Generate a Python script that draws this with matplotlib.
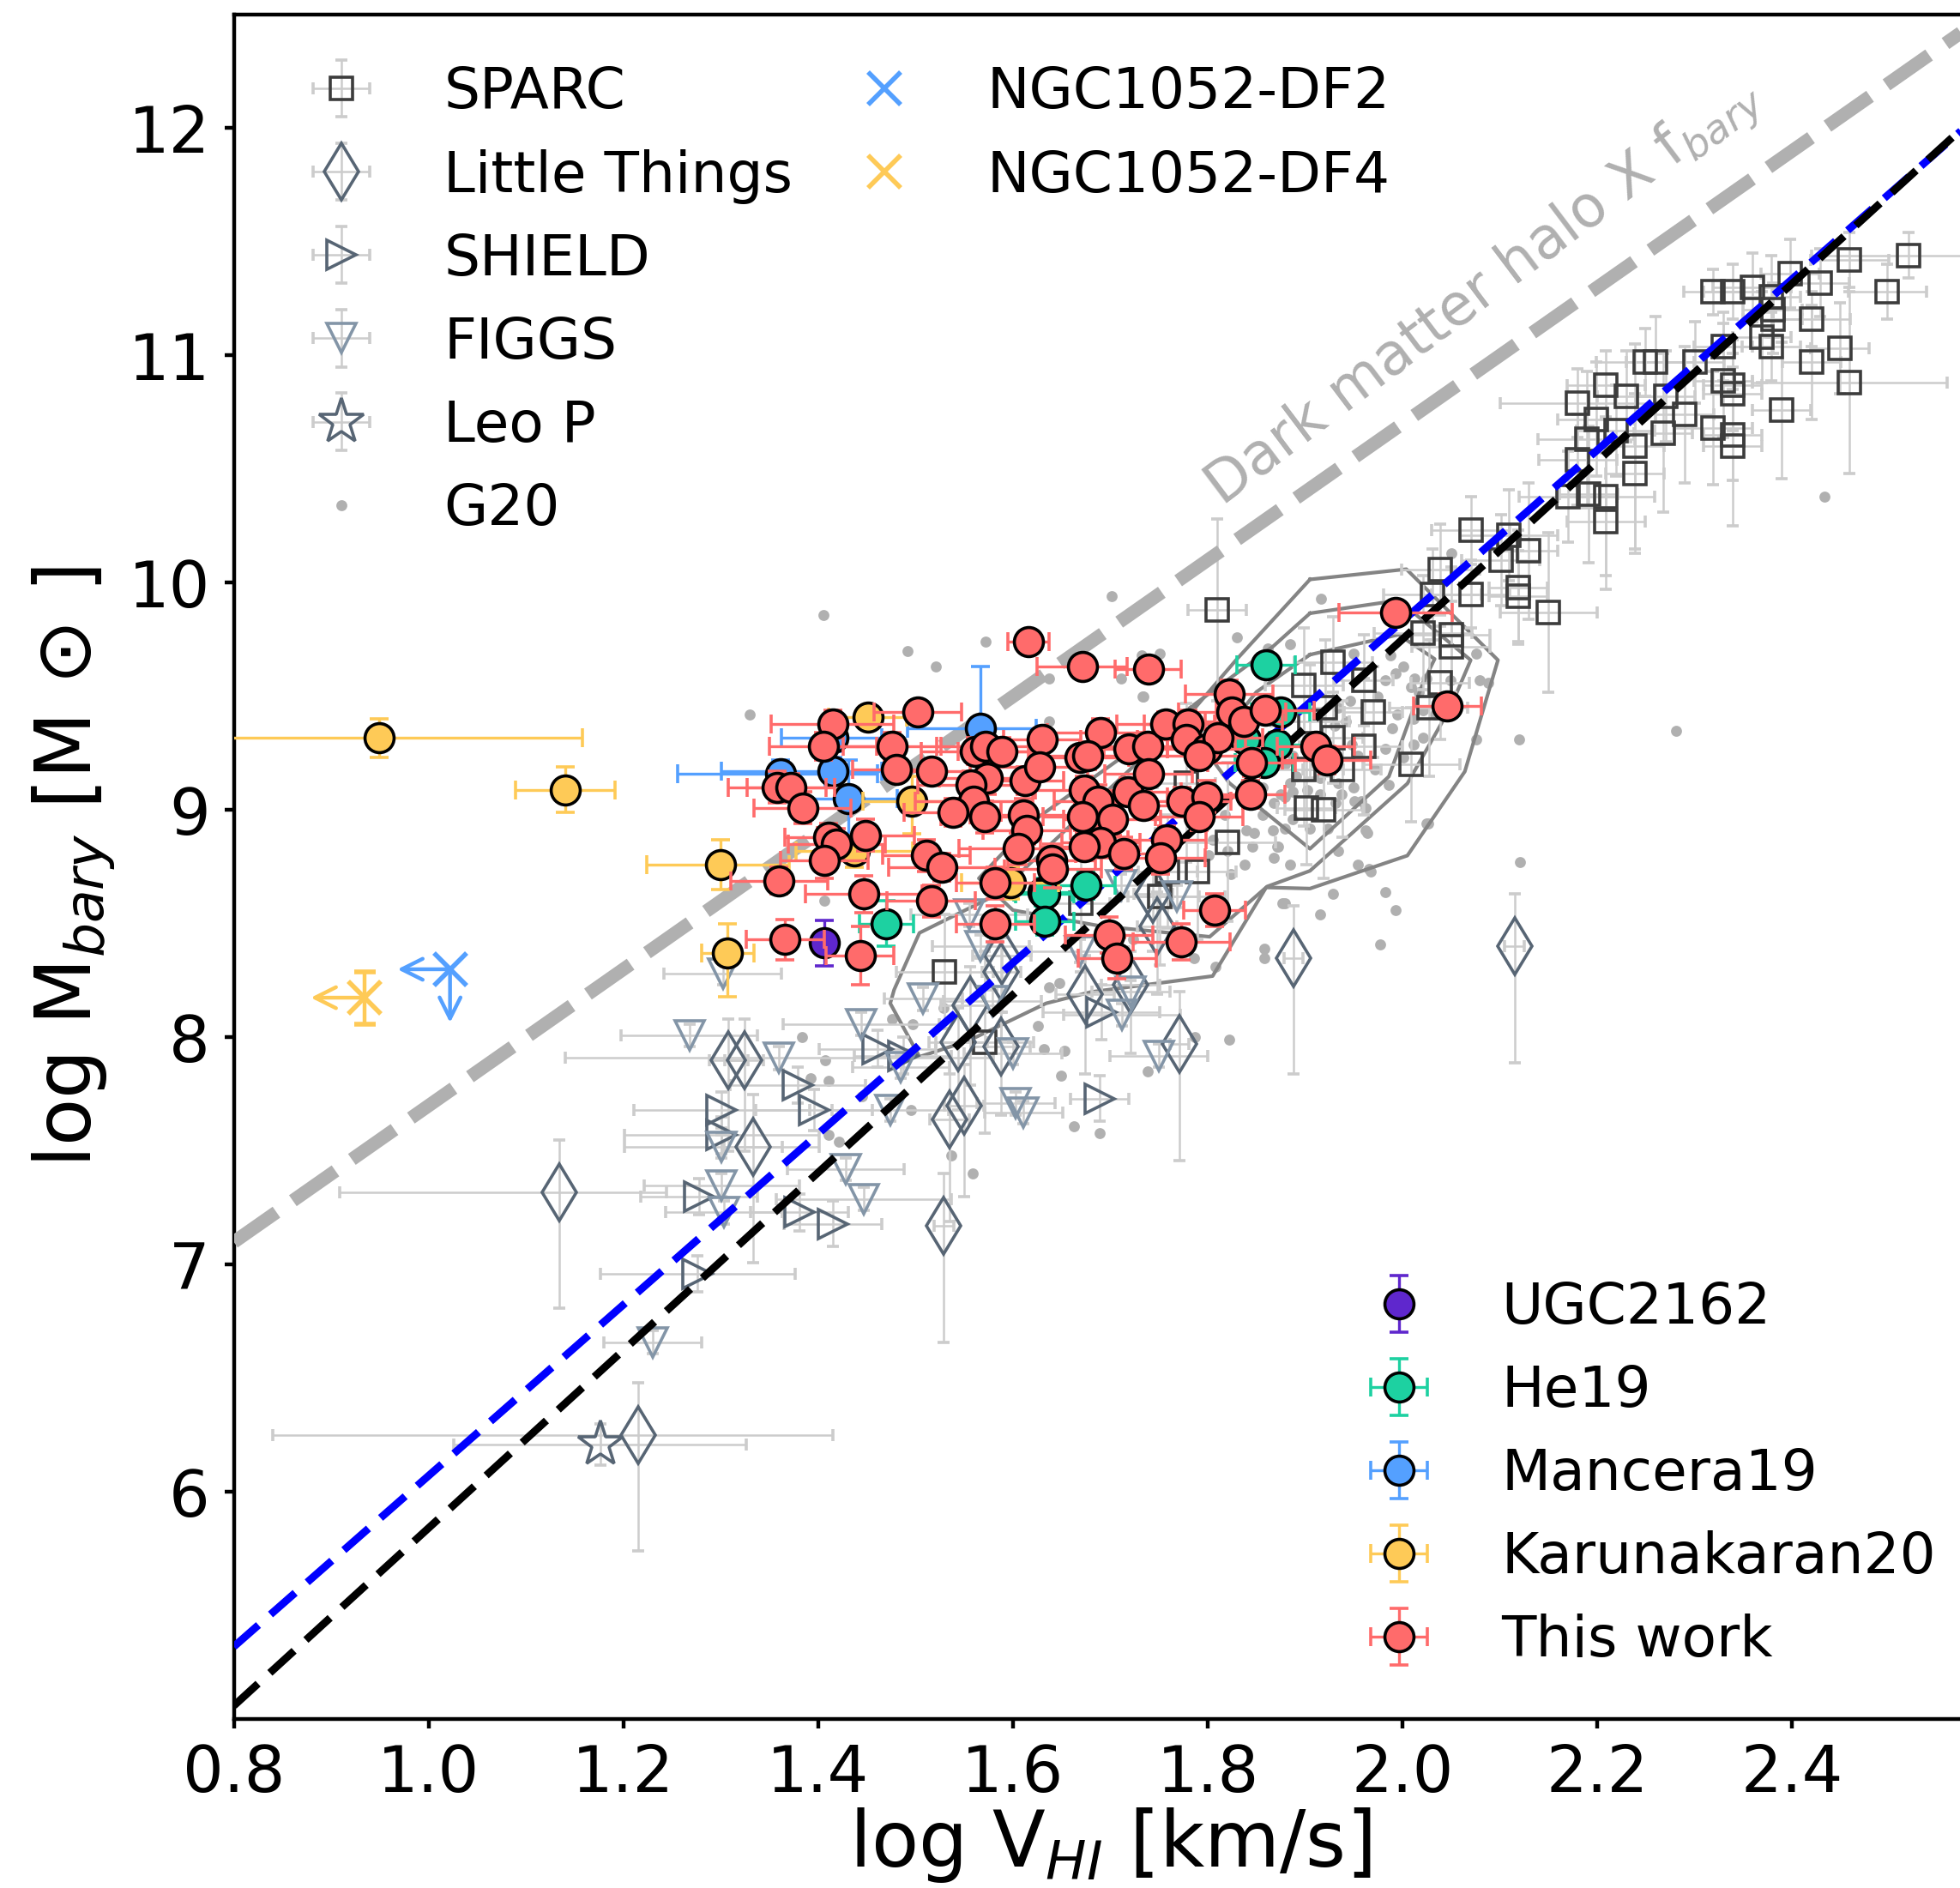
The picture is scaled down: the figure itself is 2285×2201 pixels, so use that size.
import matplotlib
matplotlib.use("Agg")
import matplotlib.pyplot as plt
from matplotlib.lines import Line2D
import numpy as np

plt.rcParams["font.family"] = ["DejaVu Sans"]
plt.rcParams["mathtext.fontset"] = "dejavusans"

# ---------------- comparison samples ----------------
sparc_logv = [2.520, 2.459, 2.429, 2.498, 2.398, 2.319, 2.339, 2.359, 2.379, 2.380,
              2.380, 2.369, 2.379, 2.420, 2.449, 2.420, 2.459, 2.389, 2.329, 2.300,
              2.260, 2.249, 2.329, 2.339, 2.339, 2.290, 2.270, 2.268, 2.319, 2.339,
              2.339, 2.209, 2.230, 2.180, 2.199, 2.189, 2.219, 2.239, 2.180, 2.239,
              2.191, 2.170, 2.209, 2.209, 2.070, 2.109, 2.129, 2.101, 2.119, 2.119,
              2.070, 2.150, 2.039, 2.031, 2.021, 2.050, 2.050, 2.039, 2.027, 2.009,
              1.810, 1.929, 1.899, 1.960, 1.921, 1.970, 1.905, 1.929, 1.960, 1.899,
              1.938, 1.901, 1.919, 1.820, 1.789, 1.759, 1.751, 1.778, 1.530, 1.670,
              1.571]
sparc_logm = [11.44, 11.42, 11.32, 11.28, 11.36, 11.28, 11.28, 11.30, 11.26, 11.20,
              11.16, 11.08, 11.04, 11.16, 11.03, 10.97, 10.88, 10.76, 11.04, 10.97,
              10.97, 10.97, 10.89, 10.87, 10.83, 10.74, 10.82, 10.66, 10.68, 10.65,
              10.60, 10.87, 10.82, 10.79, 10.72, 10.63, 10.67, 10.60, 10.54, 10.48,
              10.39, 10.38, 10.38, 10.27, 10.23, 10.21, 10.14, 10.10, 9.98, 9.94,
              9.95, 9.87, 10.06, 9.95, 9.78, 9.77, 9.72, 9.56, 9.45, 9.20,
              9.88, 9.65, 9.55, 9.57, 9.45, 9.43, 9.39, 9.32, 9.28, 9.18,
              9.18, 9.01, 9.00, 8.86, 8.73, 8.73, 8.62, 9.12, 8.29, 8.59,
              7.98]
sparc_xerr = [0.10, 0.04, 0.03, 0.04, 0.03, 0.03, 0.03, 0.04, 0.03, 0.03,
              0.03, 0.03, 0.03, 0.04, 0.03, 0.03, 0.10, 0.03, 0.03, 0.03,
              0.03, 0.05, 0.03, 0.03, 0.03, 0.03, 0.03, 0.03, 0.04, 0.03,
              0.03, 0.04, 0.03, 0.08, 0.04, 0.05, 0.04, 0.03, 0.04, 0.03,
              0.03, 0.05, 0.05, 0.04, 0.04, 0.05, 0.03, 0.04, 0.03, 0.03,
              0.04, 0.05, 0.04, 0.05, 0.05, 0.04, 0.04, 0.03, 0.04, 0.05,
              0.03, 0.04, 0.04, 0.03, 0.04, 0.03, 0.04, 0.03, 0.04, 0.04,
              0.04, 0.03, 0.04, 0.05, 0.04, 0.03, 0.04, 0.03, 0.05, 0.03,
              0.05]
sparc_yerr = [0.10, 0.12, 0.15, 0.12, 0.15, 0.10, 0.12, 0.15, 0.18, 0.12,
              0.15, 0.20, 0.15, 0.12, 0.20, 0.25, 0.40, 0.30, 0.15, 0.18,
              0.20, 0.15, 0.25, 0.20, 0.18, 0.30, 0.20, 0.35, 0.25, 0.20,
              0.35, 0.15, 0.20, 0.15, 0.25, 0.30, 0.20, 0.45, 0.20, 0.35,
              0.30, 0.20, 0.35, 0.30, 0.15, 0.20, 0.30, 0.20, 0.25, 0.20,
              0.15, 0.35, 0.20, 0.20, 0.25, 0.30, 0.20, 0.25, 0.30, 0.25,
              0.40, 0.20, 0.25, 0.20, 0.30, 0.20, 0.25, 0.20, 0.30, 0.25,
              0.30, 0.25, 0.30, 0.35, 0.30, 0.25, 0.30, 0.35, 0.25, 0.30,
              0.40]

lt_logv = [2.115, 1.888, 1.771, 1.529, 1.134, 1.215, 1.308, 1.324, 1.333, 1.535,
           1.550, 1.588, 1.674, 1.721, 1.544, 1.588, 1.556, 1.744, 1.748, 1.589]
lt_logm = [8.40, 8.35, 7.97, 7.17, 7.32, 6.25, 7.90, 7.90, 7.52, 7.64,
           7.70, 7.96, 8.19, 8.23, 7.98, 8.29, 8.14, 8.63, 8.49, 8.36]
lt_xerr_lo = [0.01, 0.01, 0.01, 0.01, 0.225, 0.375, 0.02, 0.02, 0.03, 0.02,
              0.02, 0.03, 0.03, 0.03, 0.03, 0.02, 0.03, 0.02, 0.02, 0.03]
lt_xerr_hi = [0.01, 0.01, 0.01, 0.01, 0.11, 0.20, 0.02, 0.02, 0.03, 0.02,
              0.02, 0.03, 0.03, 0.03, 0.03, 0.02, 0.03, 0.02, 0.02, 0.03]
lt_yerr_lo = [0.51, 0.51, 0.51, 0.51, 0.51, 0.51, 0.40, 0.40, 0.51, 0.45,
              0.40, 0.30, 0.35, 0.30, 0.30, 0.30, 0.35, 0.25, 0.30, 0.25]
lt_yerr_hi = [0.23, 0.23, 0.23, 0.23, 0.23, 0.23, 0.18, 0.18, 0.23, 0.20,
              0.18, 0.15, 0.17, 0.15, 0.15, 0.15, 0.17, 0.13, 0.15, 0.13]

shield_logv = [1.689, 1.691, 1.461, 1.487, 1.379, 1.396, 1.301, 1.301, 1.278, 1.381, 1.415, 1.276]
shield_logm = [7.73, 8.11, 7.95, 7.92, 7.79, 7.68, 7.68, 7.57, 7.30, 7.23, 7.18, 6.96]
shield_xerr = [0.03, 0.06, 0.06, 0.05, 0.07, 0.06, 0.09, 0.10, 0.06, 0.05, 0.05, 0.10]
shield_yerr = [0.10, 0.12, 0.08, 0.08, 0.08, 0.09, 0.08, 0.08, 0.08, 0.08, 0.10, 0.08]

figgs_logv = [1.268, 1.360, 1.444, 1.508, 1.485, 1.474, 1.301, 1.303, 1.301, 1.428,
              1.447, 1.603, 1.611, 1.750, 1.712, 1.600, 1.721, 1.230, 1.579, 1.302,
              1.555, 1.567, 1.669, 1.768, 1.711]
figgs_logm = [8.01, 7.91, 8.06, 8.17, 7.87, 7.68, 7.35, 7.23, 7.52, 7.42,
              7.29, 7.71, 7.67, 7.92, 8.10, 7.93, 8.20, 6.66, 8.16, 8.28,
              8.54, 8.40, 8.38, 8.62, 8.67]
figgs_xerr = [0.07, 0.22, 0.08, 0.04, 0.05, 0.06, 0.08, 0.06, 0.10, 0.06,
              0.09, 0.04, 0.04, 0.05, 0.06, 0.05, 0.04, 0.05, 0.05, 0.06,
              0.06, 0.05, 0.05, 0.05, 0.04]
figgs_yerr = [0.05, 0.05, 0.05, 0.05, 0.05, 0.05, 0.05, 0.05, 0.05, 0.05,
              0.05, 0.05, 0.05, 0.05, 0.05, 0.05, 0.05, 0.05, 0.05, 0.05,
              0.05, 0.05, 0.05, 0.05, 0.05]

leop_logv = [1.176]
leop_logm = [6.21]
leop_xerr = [0.15]
leop_yerr = [0.09]

g20_logv = [1.405, 1.330, 2.121, 2.281, 2.433, 2.120, 2.050, 1.916, 1.830, 1.885,
            1.862, 2.076, 2.088, 2.079, 2.076, 2.025, 1.982, 1.929, 1.993, 1.915,
            1.977, 1.858, 1.858, 1.808, 1.877, 1.966, 1.824, 1.838, 1.868, 1.885,
            1.848, 1.872, 1.879, 1.820, 1.950, 1.988, 2.001, 1.993, 1.982, 1.974,
            1.995, 1.989, 2.021, 2.011, 2.017, 2.009, 2.025, 1.946, 1.934, 1.930,
            1.942, 1.948, 1.954, 1.934, 1.911, 1.887, 1.879, 1.891, 1.915, 1.934,
            1.950, 1.887, 1.879, 1.915, 1.931, 1.887, 1.868, 1.856, 1.840, 1.905,
            1.923, 1.962, 1.856, 1.838, 1.818, 1.805, 1.801, 1.846, 1.954, 1.934,
            1.962, 1.986, 1.972, 1.982, 2.001, 2.011, 2.033, 2.021, 2.049, 1.701,
            1.492, 1.572, 1.521, 1.637, 1.732, 1.751, 1.734, 1.637, 1.875, 2.012,
            1.637, 1.648, 1.626, 1.822, 1.787, 1.738, 1.649, 1.663, 1.689, 1.559,
            1.537, 1.632, 1.653, 1.723, 1.786, 1.879, 1.383, 1.392, 1.411, 1.407,
            1.445, 1.411, 1.421, 1.495, 1.476, 1.497, 1.529, 1.406, 1.711, 1.733,
            1.902, 1.958, 1.867, 1.871, 1.967, 2.026, 1.951, 1.937, 1.964, 1.885]
g20_logm = [9.86, 9.42, 8.77, 9.35, 10.38, 9.31, 10.13, 9.93, 9.76, 9.73,
            9.71, 9.69, 9.56, 9.57, 9.31, 8.94, 8.64, 8.63, 8.56, 8.54,
            8.41, 8.39, 8.35, 8.31, 8.59, 8.74, 8.72, 8.76, 8.79, 8.76,
            8.90, 8.84, 8.92, 8.82, 9.69, 9.68, 9.63, 9.60, 9.57, 9.50,
            9.42, 9.36, 9.32, 9.40, 9.52, 9.54, 9.58, 9.48, 9.45, 9.37,
            9.39, 9.29, 9.24, 9.23, 9.20, 9.24, 9.20, 9.15, 9.14, 9.12,
            9.10, 9.08, 9.06, 9.07, 9.03, 8.96, 9.03, 8.98, 8.91, 8.92,
            8.92, 8.91, 9.10, 9.06, 8.98, 8.87, 8.80, 8.84, 8.76, 8.82,
            9.01, 9.11, 9.18, 9.27, 9.23, 9.29, 9.42, 9.44, 9.57, 9.94,
            9.70, 9.74, 9.63, 9.58, 9.68, 9.69, 9.50, 9.39, 9.07, 9.58,
            8.22, 8.24, 8.05, 7.99, 8.00, 7.85, 7.83, 7.61, 7.58, 7.40,
            7.48, 7.95, 7.94, 8.43, 8.35, 8.59, 8.00, 7.82, 7.81, 7.90,
            7.74, 7.57, 7.54, 7.68, 8.08, 8.06, 8.13, 8.60, 9.58, 9.50,
            9.09, 9.04, 8.91, 8.84, 8.73, 8.94, 9.04, 9.07, 8.90, 9.12]

# G20 density contours (outer, middle, inner levels)
contour_outer_v = [1.905, 2.004, 2.098, 2.064, 2.005, 1.905, 1.860, 1.805, 1.680, 1.634,
                   1.554, 1.504, 1.474, 1.478, 1.504, 1.584, 1.785, 1.829, 1.905]
contour_outer_m = [10.015, 10.06, 9.66, 9.17, 8.80, 8.655, 8.66, 8.27, 8.20, 8.15,
                   7.985, 7.915, 8.15, 8.21, 8.46, 8.63, 9.44, 9.66, 10.015]
contour_middle_v = [1.905, 1.996, 2.070, 2.049, 2.005, 1.905, 1.861, 1.802, 1.690, 1.600,
                    1.565, 1.620, 1.750, 1.867, 1.905]
contour_middle_m = [9.866, 9.923, 9.66, 9.45, 9.117, 8.733, 8.664, 8.443, 8.49, 8.56,
                    8.70, 8.95, 9.35, 9.72, 9.866]
contour_inner_v = [1.905, 1.996, 2.033, 2.021, 1.986, 1.905, 1.822, 1.800, 1.850, 1.905]
contour_inner_m = [9.684, 9.772, 9.665, 9.56, 9.148, 8.83, 9.12, 9.25, 9.52, 9.684]

# ---------------- ultra-diffuse samples ----------------
ugc_logv = [1.406]
ugc_logm = [8.415]
ugc_yerr = [0.10]

he19_logv = [1.860, 1.875, 1.839, 1.871, 1.858, 1.675, 1.631, 1.633, 1.633, 1.470]
he19_logm = [9.64, 9.43, 9.31, 9.29, 9.21, 8.67, 8.64, 8.63, 8.51, 8.50]
he19_xerr = [0.03, 0.03, 0.03, 0.03, 0.03, 0.03, 0.03, 0.03, 0.03, 0.028]
he19_yerr = [0.05, 0.05, 0.05, 0.05, 0.05, 0.06, 0.06, 0.06, 0.06, 0.10]

man19_logv = [1.567, 1.361, 1.415, 1.415, 1.431]
man19_logm = [9.36, 9.16, 9.17, 9.32, 9.05]
man19_xerr_lo = [0.075, 0.105, 0.114, 0.053, 0.05]
man19_xerr_hi = [0.057, 0.100, 0.050, 0.050, 0.05]
man19_yerr = [0.27, 0.06, 0.06, 0.06, 0.17]

kar20_logv = [0.949, 1.140, 1.300, 1.307, 1.451, 1.496, 1.437, 1.597]
kar20_logm = [9.32, 9.09, 8.76, 8.37, 9.41, 9.04, 8.82, 8.68]
kar20_xerr_lo = [0.25, 0.051, 0.076, 0.027, 0.04, 0.05, 0.06, 0.05]
kar20_xerr_hi = [0.209, 0.051, 0.070, 0.027, 0.04, 0.05, 0.06, 0.05]
kar20_yerr_lo = [0.09, 0.10, 0.11, 0.19, 0.05, 0.145, 0.07, 0.07]
kar20_yerr_hi = [0.08, 0.10, 0.11, 0.13, 0.05, 0.107, 0.07, 0.07]

tw_logv = [1.616, 1.671, 1.739, 1.993, 2.046, 1.502, 1.476, 1.480, 1.516, 1.561,
           1.572, 1.589, 1.630, 1.690, 1.669, 1.677, 1.719, 1.738, 1.757, 1.780,
           1.778, 1.799, 1.811, 1.791, 1.822, 1.825, 1.837, 1.859, 1.845, 1.911,
           1.922, 1.574, 1.557, 1.560, 1.538, 1.571, 1.612, 1.627, 1.611, 1.614,
           1.605, 1.673, 1.687, 1.671, 1.702, 1.718, 1.739, 1.734, 1.690, 1.673,
           1.714, 1.758, 1.752, 1.774, 1.799, 1.791, 1.844, 1.449, 1.511, 1.527,
           1.640, 1.641, 1.582, 1.447, 1.516, 1.582, 1.443, 1.807, 1.699, 1.707,
           1.773, 1.415, 1.405, 1.358, 1.372, 1.384, 1.411, 1.419, 1.406, 1.360,
           1.366]
tw_logm = [9.74, 9.63, 9.62, 9.87, 9.46, 9.43, 9.28, 9.18, 9.17, 9.26,
           9.28, 9.26, 9.31, 9.34, 9.23, 9.24, 9.27, 9.28, 9.38, 9.38,
           9.31, 9.27, 9.32, 9.24, 9.51, 9.43, 9.39, 9.44, 9.21, 9.28,
           9.22, 9.14, 9.11, 9.04, 8.99, 8.97, 9.13, 9.19, 8.98, 8.91,
           8.83, 9.09, 9.04, 8.97, 8.96, 9.08, 9.16, 9.02, 8.86, 8.84,
           8.81, 8.87, 8.79, 9.04, 9.06, 8.97, 9.07, 8.89, 8.80, 8.75,
           8.78, 8.74, 8.68, 8.63, 8.60, 8.50, 8.36, 8.56, 8.45, 8.35,
           8.42, 9.38, 9.28, 9.10, 9.10, 9.01, 8.88, 8.85, 8.78, 8.69,
           8.43]
tw_xerr = [0.021, 0.046, 0.034, 0.058, 0.035, 0.045, 0.050, 0.045, 0.040, 0.055,
           0.050, 0.045, 0.040, 0.055, 0.050, 0.045, 0.040, 0.045, 0.050, 0.045,
           0.050, 0.040, 0.045, 0.050, 0.045, 0.055, 0.040, 0.050, 0.045, 0.040,
           0.045, 0.050, 0.055, 0.060, 0.050, 0.045, 0.040, 0.050, 0.055, 0.045,
           0.060, 0.050, 0.045, 0.040, 0.050, 0.055, 0.045, 0.050, 0.040, 0.045,
           0.050, 0.040, 0.045, 0.050, 0.040, 0.045, 0.035, 0.050, 0.045, 0.055,
           0.045, 0.050, 0.040, 0.060, 0.045, 0.040, 0.035, 0.032, 0.045, 0.040,
           0.050, 0.063, 0.055, 0.050, 0.045, 0.050, 0.045, 0.050, 0.045, 0.050,
           0.040]
tw_yerr = [0.03, 0.04, 0.04, 0.04, 0.05, 0.05, 0.06, 0.05, 0.05, 0.06,
           0.05, 0.06, 0.05, 0.06, 0.05, 0.06, 0.05, 0.06, 0.05, 0.06,
           0.05, 0.06, 0.05, 0.06, 0.06, 0.05, 0.06, 0.05, 0.06, 0.05,
           0.06, 0.07, 0.06, 0.07, 0.06, 0.07, 0.06, 0.06, 0.07, 0.06,
           0.07, 0.06, 0.07, 0.06, 0.07, 0.06, 0.05, 0.06, 0.07, 0.06,
           0.07, 0.06, 0.07, 0.06, 0.07, 0.06, 0.06, 0.07, 0.07, 0.06,
           0.07, 0.08, 0.07, 0.08, 0.07, 0.08, 0.13, 0.07, 0.08, 0.09,
           0.08, 0.06, 0.06, 0.07, 0.06, 0.07, 0.06, 0.07, 0.08, 0.06,
           0.09]

# NGC1052 galaxies: upper limits
df2_logv, df2_logm = 1.022, 8.30
df2_dv, df2_dm = 0.054, 0.235
df4_logv, df4_logm = 0.934, 8.175
df4_dv, df4_merr = 0.055, 0.115

# scaling relations: log M = slope * log V + zero point
halo_slope, halo_zero = 3.0, 4.70
btfr_slope, btfr_zero = 3.91, 1.932
btfr2_slope, btfr2_zero = 3.76, 2.312

# ---------------- styling ----------------
C_RED, C_GREEN, C_BLUE = "#ff6b6b", "#1dd1a1", "#54a0ff"
C_ORANGE, C_PURPLE = "#feca57", "#5f27cd"
C_ERR = "#cccccc"
C_SLATE, C_SLATE_L = "#576574", "#8395a7"

fig = plt.figure(figsize=(11.425, 11.005), dpi=200)
ax = fig.add_axes([0.1193, 0.0893, 0.8944, 0.9030])
ax.set_xlim(0.8, 2.6)
ax.set_ylim(5.0, 12.5)

# G20 points and their density contours
ax.plot(g20_logv, g20_logm, "o", ms=3.6, color="#b0b0b0", ls="none", zorder=1)
g20_h = Line2D([], [], marker="o", ms=3.6, color="#b0b0b0", ls="none")
for cv, cm in [(contour_outer_v, contour_outer_m),
               (contour_middle_v, contour_middle_m),
               (contour_inner_v, contour_inner_m)]:
    ax.plot(cv, cm, color="#848484", lw=1.5, zorder=2)

gray_kw = dict(ls="none", mfc="none", ecolor=C_ERR, elinewidth=0.9,
               capsize=2.6, capthick=0.9, zorder=3)
sparc_h = ax.errorbar(sparc_logv, sparc_logm, xerr=sparc_xerr, yerr=sparc_yerr,
                      marker="s", ms=9.5, mec="#3c3c3c", mew=1.3, **gray_kw)
lt_h = ax.errorbar(lt_logv, lt_logm, xerr=[lt_xerr_lo, lt_xerr_hi],
                   yerr=[lt_yerr_lo, lt_yerr_hi],
                   marker="d", ms=17, mec=C_SLATE, mew=1.3, **gray_kw)
shield_h = ax.errorbar(shield_logv, shield_logm, xerr=shield_xerr, yerr=shield_yerr,
                       marker=">", ms=12.5, mec=C_SLATE, mew=1.3, **gray_kw)
figgs_h = ax.errorbar(figgs_logv, figgs_logm, xerr=figgs_xerr, yerr=figgs_yerr,
                      marker="v", ms=12.5, mec=C_SLATE_L, mew=1.3, **gray_kw)
leop_h = ax.errorbar(leop_logv, leop_logm, xerr=leop_xerr, yerr=leop_yerr,
                     marker="*", ms=20, mec=C_SLATE, mew=1.3, **gray_kw)

# scaling relations
vgrid = np.array([0.8, 2.6])
ax.plot(vgrid, halo_slope * vgrid + halo_zero, color="#b0b0b0", lw=5.6,
        dashes=(3.9, 1.5), zorder=4)
ax.plot(vgrid, btfr2_slope * vgrid + btfr2_zero, color="blue", lw=3.2,
        dashes=(4.3, 2.1), zorder=4)
ax.plot(vgrid, btfr_slope * vgrid + btfr_zero, color="black", lw=3.2,
        dashes=(4.3, 2.1), zorder=4)
ax.text(1.815, 10.33, "Dark matter halo X f$_{bary}$", rotation=37,
        rotation_mode="anchor", ha="left", va="baseline", color="#b0b0b0",
        fontsize=24, zorder=4)

# UDG samples
col_kw = dict(ls="none", marker="o", ms=12.2, mec="black", mew=1.3,
              elinewidth=1.2, capsize=4.0, capthick=1.2)
ugc_h = ax.errorbar(ugc_logv, ugc_logm, yerr=ugc_yerr, mfc=C_PURPLE,
                    ecolor=C_PURPLE, zorder=5, **col_kw)
he19_h = ax.errorbar(he19_logv, he19_logm, xerr=he19_xerr, yerr=he19_yerr,
                     mfc=C_GREEN, ecolor=C_GREEN, zorder=6, **col_kw)
man19_h = ax.errorbar(man19_logv, man19_logm, xerr=[man19_xerr_lo, man19_xerr_hi],
                      yerr=man19_yerr, mfc=C_BLUE, ecolor=C_BLUE, zorder=7, **col_kw)
kar20_h = ax.errorbar(kar20_logv, kar20_logm, xerr=[kar20_xerr_lo, kar20_xerr_hi],
                      yerr=[kar20_yerr_lo, kar20_yerr_hi], mfc=C_ORANGE,
                      ecolor=C_ORANGE, zorder=8, **col_kw)
tw_h = ax.errorbar(tw_logv, tw_logm, xerr=tw_xerr, yerr=tw_yerr, mfc=C_RED,
                   ecolor=C_RED, zorder=9, **col_kw)

# NGC1052-DF2 / DF4 with limit arrows
arrow_kw = dict(arrowstyle="->", lw=1.6, mutation_scale=22, shrinkA=0, shrinkB=0)
ax.plot([df2_logv], [df2_logm], "x", ms=14, mew=2.0, color=C_BLUE, zorder=6)
ax.annotate("", xy=(df2_logv - df2_dv, df2_logm), xytext=(df2_logv, df2_logm),
            arrowprops=dict(color=C_BLUE, **arrow_kw), zorder=6)
ax.annotate("", xy=(df2_logv, df2_logm - df2_dm), xytext=(df2_logv, df2_logm),
            arrowprops=dict(color=C_BLUE, **arrow_kw), zorder=6)
ax.errorbar([df4_logv], [df4_logm], yerr=[df4_merr], ls="none", marker="x", ms=14,
            mew=2.0, color=C_ORANGE, ecolor=C_ORANGE, elinewidth=1.6, capsize=4.5,
            capthick=1.6, zorder=6)
ax.annotate("", xy=(df4_logv - df4_dv, df4_logm), xytext=(df4_logv, df4_logm),
            arrowprops=dict(color=C_ORANGE, **arrow_kw), zorder=6)
df2_h = Line2D([], [], marker="x", ms=14, mew=2.0, color=C_BLUE, ls="none")
df4_h = Line2D([], [], marker="x", ms=14, mew=2.0, color=C_ORANGE, ls="none")

# axes cosmetics
ax.set_xticks([0.8, 1.0, 1.2, 1.4, 1.6, 1.8, 2.0, 2.2, 2.4])
ax.set_xticklabels(["0.8", "1.0", "1.2", "1.4", "1.6", "1.8", "2.0", "2.2", "2.4"])
ax.set_yticks([6, 7, 8, 9, 10, 11, 12])
ax.tick_params(axis="both", labelsize=27, length=4, width=1.6, pad=6)
for sp in ax.spines.values():
    sp.set_linewidth(1.6)
ax.set_xlabel(r"log V$_{HI}$ [km/s]", fontsize=32.5, labelpad=0)
ax.set_ylabel(r"log M$_{bary}$ [M$\,\odot\,$]", fontsize=32.5, labelpad=5)

blank = Line2D([], [], ls="none", marker=None)
leg1 = ax.legend([sparc_h, lt_h, shield_h, figgs_h, leop_h, g20_h,
                  df2_h, df4_h, blank, blank, blank, blank],
                 ["SPARC", "Little Things", "SHIELD", "FIGGS", "Leo P", "G20",
                  "NGC1052-DF2", "NGC1052-DF4", "", "", "", ""],
                 ncol=2, loc="upper left", frameon=False, fontsize=23.8,
                 labelspacing=0.5, columnspacing=0.62, handletextpad=0.8,
                 borderaxespad=0.5)
ax.add_artist(leg1)
ax.legend([ugc_h, he19_h, man19_h, kar20_h, tw_h],
          ["UGC2162", "He19", "Mancera19", "Karunakaran20", "This work"],
          loc="lower right", frameon=False, fontsize=23.8, labelspacing=0.5,
          handletextpad=0.8)

fig.savefig("out.png", dpi=200)
